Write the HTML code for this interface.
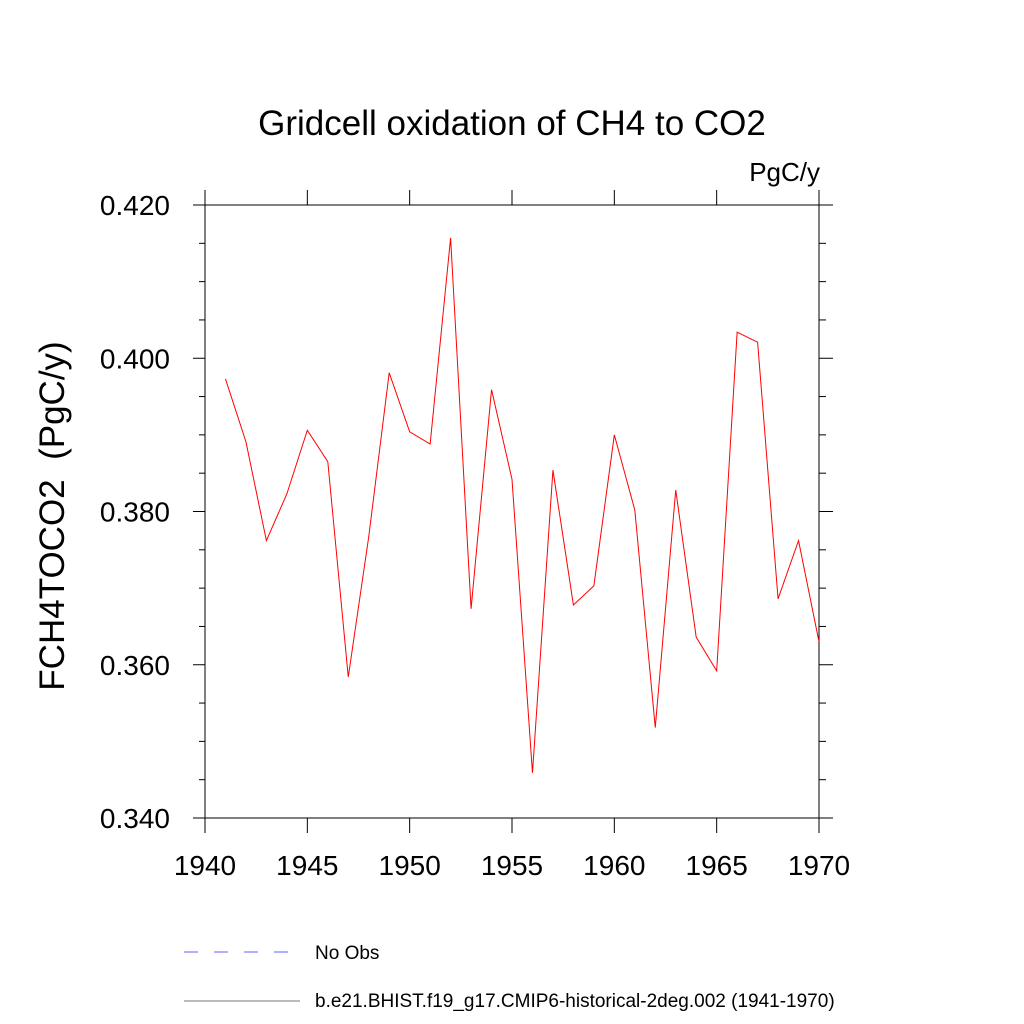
<!DOCTYPE html>
<html><head><meta charset="utf-8"><style>body{margin:0;background:#fff}svg{display:block}</style></head>
<body>
<svg id="chart" width="1024" height="1024" xmlns="http://www.w3.org/2000/svg" font-family="'Liberation Sans', sans-serif">
<text x="512" y="135" font-size="35" text-anchor="middle">Gridcell oxidation of CH4 to CO2</text>
<text x="820" y="181" font-size="26" text-anchor="end">PgC/y</text>
<text transform="translate(64,516) rotate(-90)" font-size="35" text-anchor="middle" xml:space="preserve">FCH4TOCO2&#160; (PgC/y)</text>
<g id="axes"></g>
<g id="series"></g>
<g>
<line x1="184" y1="952" x2="300" y2="952" stroke="#6060ff" stroke-width="1" stroke-dasharray="14,16"/>
<text x="315" y="959" font-size="19">No Obs</text>
<line x1="184" y1="1001" x2="300" y2="1001" stroke="#777" stroke-width="1"/>
<text x="315" y="1007" font-size="19">b.e21.BHIST.f19_g17.CMIP6-historical-2deg.002 (1941-1970)</text>
</g>
</svg>
<script>
const years = [1941,1942,1943,1944,1945,1946,1947,1948,1949,1950,1951,1952,1953,1954,1955,1956,1957,1958,1959,1960,1961,1962,1963,1964,1965,1966,1967,1968,1969,1970];
const values = [0.3973,0.3891,0.3762,0.3823,0.3906,0.3865,0.3584,0.3767,0.3981,0.3904,0.3888,0.4157,0.3673,0.3959,0.3842,0.3459,0.3854,0.3678,0.3703,0.3900,0.3802,0.3518,0.3828,0.3636,0.3592,0.4034,0.4021,0.3686,0.3762,0.3630];
const xTicks = [1940,1945,1950,1955,1960,1965,1970];
const yTicks = [0.340,0.360,0.380,0.400,0.420];
const yTickLabels = ["0.340","0.360","0.380","0.400","0.420"];
const X0=205,X1=819,Y0=818,Y1=205;
const xMin=1940,xMax=1970,yMin=0.34,yMax=0.42;
const sx=v=>X0+(v-xMin)/(xMax-xMin)*(X1-X0);
const sy=v=>Y0-(v-yMin)/(yMax-yMin)*(Y0-Y1);
const NS="http://www.w3.org/2000/svg";
const ax=document.getElementById('axes');
function ln(x1,y1,x2,y2,name){const l=document.createElementNS(NS,'line');
l.setAttribute('x1',x1);l.setAttribute('y1',y1);l.setAttribute('x2',x2);l.setAttribute('y2',y2);
l.setAttribute('stroke','#000');l.setAttribute('stroke-width','1');


ax.appendChild(l);}
function tx(x,y,s,anchor,name){const t=document.createElementNS(NS,'text');
t.setAttribute('x',x);t.setAttribute('y',y);t.setAttribute('font-size','28');t.setAttribute('text-anchor',anchor);t.textContent=s;


ax.appendChild(t);}
const r=document.createElementNS(NS,'rect');
r.setAttribute('x',X0);r.setAttribute('y',Y1);r.setAttribute('width',X1-X0);r.setAttribute('height',Y0-Y1);
r.setAttribute('fill','none');r.setAttribute('stroke','#000');


ax.appendChild(r);
xTicks.forEach(v=>{const x=sx(v);ln(x,Y0,x,Y0+15,'x-tick');ln(x,Y1,x,Y1-15,'x-tick-top');tx(x,Y0+57,String(v),'middle','x-tick-label');});
yTicks.forEach((v,i)=>{const y=sy(v);ln(X0-12,y,X0,y,'y-tick');ln(X1,y,X1+14,y,'y-tick-right');tx(170,y+10,yTickLabels[i],'end','y-tick-label');});
for(let k=1;k<16;k++){if(k%4===0)continue;const y=sy(yMin+k*0.005);ln(X0-6,y,X0,y,'y-minor-tick');ln(X1,y,X1+7,y,'y-minor-tick-right');}
const p=document.createElementNS(NS,'polyline');
p.setAttribute('points',years.map((y,i)=>sx(y)+','+sy(values[i])).join(' '));
p.setAttribute('fill','none');p.setAttribute('stroke','#ff0000');p.setAttribute('stroke-width','1');


document.getElementById('series').appendChild(p);
</script>
</body></html>
